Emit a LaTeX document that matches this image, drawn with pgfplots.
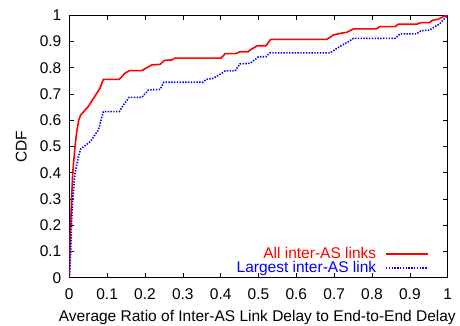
\documentclass[border=0pt]{standalone}
\usepackage{fontspec}
\setmainfont{Liberation Sans}
\usepackage{pgfplots}
\pgfplotsset{compat=1.18}
\newcommand{\ff}{\fontsize{15.5}{16}\selectfont}
\begin{document}
\ff
\begin{tikzpicture}
\useasboundingbox (-69.3pt,-47.3pt) rectangle (390.7pt,277.7pt);
\begin{axis}[
  at={(0pt,0pt)}, anchor=south west,
  scale only axis, width=378.4pt, height=262.4pt,
  xmin=0, xmax=1, ymin=0, ymax=1,
  xtick={0,0.1,...,1.01}, ytick={0,0.1,...,1.01},
  xticklabels={0,0.1,0.2,0.3,0.4,0.5,0.6,0.7,0.8,0.9,1},
  yticklabels={0,0.1,0.2,0.3,0.4,0.5,0.6,0.7,0.8,0.9,1},
  /pgf/number format/assume math mode=true,
  major tick length=5pt,
  tick style={black, line width=0.6pt},
  axis line style={black, line width=0.8pt},
  tick label style={font=\ff},
  xticklabel style={anchor=base, yshift=-21.5pt},
  yticklabel style={anchor=east, inner sep=0pt, xshift=-7.8pt},
  label style={font=\ff},
  xlabel={Average Ratio of Inter-AS Link Delay to End-to-End Delay},
  ylabel={CDF},
  xlabel style={at={(axis description cs:0.497,-0.1688)}, anchor=base},
  ylabel style={at={(axis description cs:-0.1268,0.5)}, anchor=center},
  legend style={draw=none, fill=none, at={(1,0)}, anchor=south east,
    xshift=-18.7pt, yshift=2.7pt, inner sep=0pt, column sep=9pt, row sep=0.5pt,
    nodes={inner sep=0pt}, font=\ff},
  legend cell align=right,
  legend plot pos=right,
  legend image code/.code={\draw[#1] (0pt,0pt) -- (42pt,0pt);},
]
\addplot[red, line width=1.6pt] coordinates {
(0,0) (0.002,0.144) (0.006,0.296) (0.009,0.398) (0.015,0.499) (0.020,0.560) (0.025,0.600)
(0.030,0.620) (0.050,0.652) (0.081,0.722) (0.090,0.756) (0.132,0.756) (0.147,0.779)
(0.159,0.789) (0.191,0.789) (0.218,0.811) (0.240,0.813) (0.251,0.828) (0.271,0.830)
(0.279,0.837) (0.401,0.837) (0.412,0.854) (0.440,0.854) (0.451,0.861) (0.473,0.861)
(0.478,0.868) (0.497,0.884) (0.520,0.884) (0.532,0.908) (0.680,0.908) (0.698,0.925)
(0.715,0.931) (0.733,0.935) (0.751,0.948) (0.811,0.948) (0.821,0.957) (0.861,0.957)
(0.869,0.966) (0.918,0.966) (0.929,0.972) (0.951,0.972) (0.960,0.981) (0.975,0.985)
(0.991,0.997) (1,1)
};
\addlegendentry{\textcolor{red}{All inter-AS links}}
\addplot[blue, line width=1.6pt, dash pattern=on 1.4pt off 1.4pt] coordinates {
(0,0) (0.004,0.105) (0.006,0.207) (0.009,0.296) (0.015,0.398) (0.024,0.461) (0.030,0.490)
(0.055,0.518) (0.077,0.563) (0.090,0.633) (0.132,0.633) (0.143,0.658) (0.158,0.687)
(0.191,0.687) (0.209,0.715) (0.240,0.718) (0.250,0.745) (0.353,0.745) (0.362,0.756)
(0.381,0.760) (0.399,0.776) (0.412,0.788) (0.438,0.788) (0.451,0.815) (0.478,0.817)
(0.500,0.842) (0.520,0.842) (0.530,0.857) (0.689,0.857) (0.707,0.874) (0.724,0.889)
(0.737,0.899) (0.751,0.912) (0.861,0.912) (0.874,0.929) (0.918,0.929) (0.929,0.941)
(0.953,0.944) (0.966,0.957) (0.978,0.966) (0.988,0.982) (1,1)
};
\addlegendentry{\textcolor{blue}{Largest inter-AS link}}
\end{axis}
\end{tikzpicture}
\end{document}
